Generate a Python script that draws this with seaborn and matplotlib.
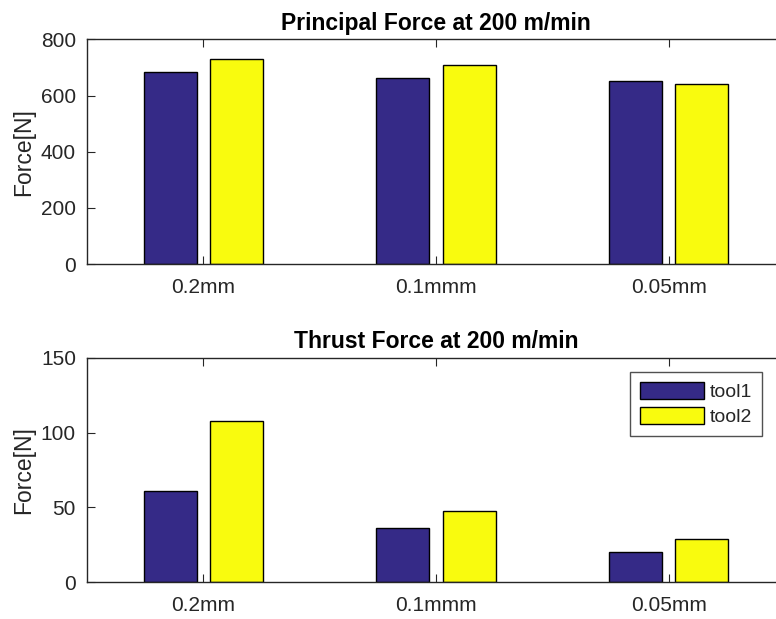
import matplotlib
matplotlib.use("Agg")
import matplotlib.pyplot as plt
import seaborn as sns
import pandas as pd

categories = ["0.2mm", "0.1mmm", "0.05mm"]
tools = ["tool1", "tool2"]
principal_tool1 = [683, 664, 652]
principal_tool2 = [731, 710, 640]
thrust_tool1 = [60.8, 36.3, 20.5]
thrust_tool2 = [107.9, 47.8, 28.7]
principal_ticks = [0, 200, 400, 600, 800]
thrust_ticks = [0, 50, 100, 150]

colors = {"tool1": "#352A87", "tool2": "#F9FB0E"}

sns.set_style("white")
plt.rcParams["font.family"] = ["Liberation Sans", "DejaVu Sans"]

fig = plt.figure(figsize=(7.76, 6.19), dpi=100)
ax1 = fig.add_axes([0.1121, 0.5735, 0.8995, 0.3627])
ax2 = fig.add_axes([0.1121, 0.0593, 0.8995, 0.3628])

def make_df(v1, v2):
    rows = []
    for c, a, b in zip(categories, v1, v2):
        rows.append({"cat": c, "tool": "tool1", "force": a})
        rows.append({"cat": c, "tool": "tool2", "force": b})
    return pd.DataFrame(rows)

grey = "#262626"
specs = [
    (ax1, make_df(principal_tool1, principal_tool2), "Principal Force at 200 m/min", principal_ticks),
    (ax2, make_df(thrust_tool1, thrust_tool2), "Thrust Force at 200 m/min", thrust_ticks),
]
for ax, df, title, yt in specs:
    sns.barplot(data=df, x="cat", y="force", hue="tool", order=categories,
                hue_order=tools, palette=colors, width=0.571, gap=0.2,
                saturation=1, edgecolor="black", linewidth=1.0, ax=ax,
                legend=(ax is ax2))
    ax.set_xlim(-0.5, 2.5)
    ax.set_ylim(yt[0], yt[-1])
    ax.set_yticks(yt)
    ax.set_xlabel("")
    ax.set_ylabel("Force[N]", fontsize=16.5, color=grey, labelpad=4)
    ax.set_title(title, fontsize=16.5, fontweight="bold", color="black", pad=7)
    ax.tick_params(axis="both", direction="in", length=6, width=0.8,
                   colors=grey, labelsize=15, top=True, right=True,
                   left=True, bottom=True)
    ax.tick_params(axis="x", pad=10)
    ax.tick_params(axis="y", pad=8)
    for s in ax.spines.values():
        s.set_visible(True)
        s.set_color(grey)
        s.set_linewidth(1.0)

leg = ax2.legend(loc="upper right", bbox_to_anchor=(0.967, 0.936),
                 fontsize=14, frameon=True, fancybox=False, shadow=False,
                 handlelength=3.3, handleheight=1.0, handletextpad=0.3,
                 borderpad=0.5, labelspacing=0.3, borderaxespad=0.0)
leg.get_frame().set_edgecolor(grey)
leg.get_frame().set_linewidth(1.0)
for t in leg.get_texts():
    t.set_color(grey)

fig.savefig("out.png", dpi=100)
